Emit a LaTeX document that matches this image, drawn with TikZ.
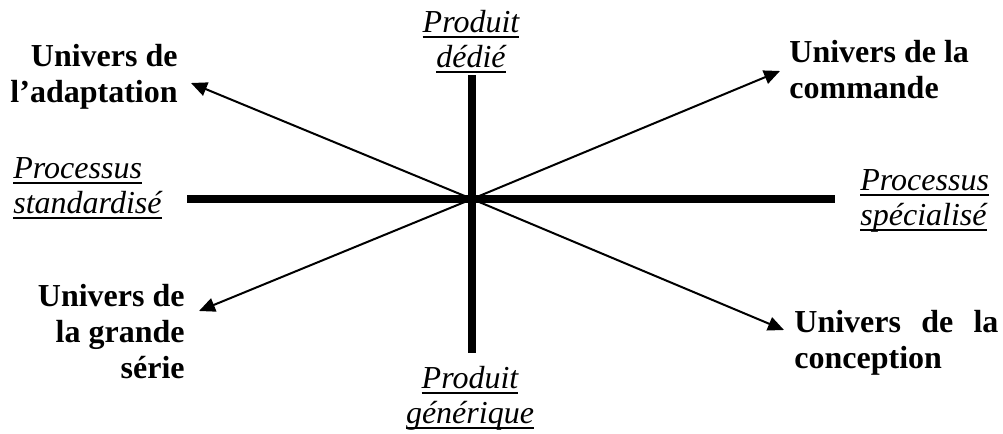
\documentclass[tikz,border=0pt]{standalone}
\usepackage{fontspec}
\setmainfont{Liberation Serif}
\usetikzlibrary{arrows.meta}
% underline at a fixed depth, as the word processor draws it
\newcommand{\soulign}[1]{\setbox0\hbox{#1}\rlap{\rule[-3pt]{\wd0}{1pt}}\box0}
\begin{document}
\begin{tikzpicture}
% Quadrant diagram, coordinates in pixels (y downwards)
\providecommand{\quadAxisWidth}{3.75pt}
\providecommand{\quadArrowWidth}{1pt}
\begin{scope}[x=0.5pt, y=-0.5pt,
  axe/.style={line width=\quadAxisWidth},
  fleche/.style={line width=\quadArrowWidth, -{Triangle[length=8pt,width=7pt]}},
  univers/.style={font=\fontsize{16}{18}\selectfont\bfseries, inner sep=0pt},
  pole/.style={font=\fontsize{16}{17.5}\selectfont\itshape, inner sep=0pt}]
  % Frame
  \useasboundingbox (0,0) rectangle (1003,434);
  % Centre, axis ends and arrow tips
  \coordinate (o) at (472,199);
  \coordinate (axeHaut) at (472,75);
  \coordinate (axeBas) at (472,353);
  \coordinate (axeGauche) at (187,199);
  \coordinate (axeDroite) at (835,199);
  \coordinate (tipAdaptation) at (191,83);
  \coordinate (tipCommande) at (780,71);
  \coordinate (tipGrandeSerie) at (199,311);
  \coordinate (tipConception) at (784,330);
  % Axes
  \draw[axe] (axeGauche) -- (axeDroite);
  \draw[axe] (axeHaut) -- (axeBas);
  % Arrows
  \draw[fleche] (o) -- (tipAdaptation);
  \draw[fleche] (o) -- (tipCommande);
  \draw[fleche] (o) -- (tipGrandeSerie);
  \draw[fleche] (o) -- (tipConception);
  % Universes (base = last line)
  \node[univers, align=right, anchor=base east] (adaptation) at (178,102)
    {Univers de\\l'adaptation};
  \node[univers, align=left, anchor=base west] (commande) at (789,98)
    {Univers de la\\commande};
  \node[univers, align=right, anchor=base east] (grandeSerie) at (185,378)
    {Univers de\\la grande\\série};
  \node[univers, align=left, anchor=base west] (conception) at (794,368)
    {\makebox[102pt][s]{Univers de la}\\conception};
  % Poles
  \node[pole, align=center, anchor=base] (dedie) at (471,67)
    {\soulign{Produit}\\\soulign{dédié}};
  \node[pole, align=center, anchor=base] (generique) at (470,423)
    {\soulign{Produit}\\\soulign{générique}};
  \node[pole, align=left, anchor=base west] (standardise) at (13,213)
    {\soulign{Processus}\\\soulign{standardisé}};
  \node[pole, align=left, anchor=base west] (specialise) at (860,225)
    {\soulign{Processus}\\\soulign{spécialisé}};
\end{scope}
\end{tikzpicture}
\end{document}
